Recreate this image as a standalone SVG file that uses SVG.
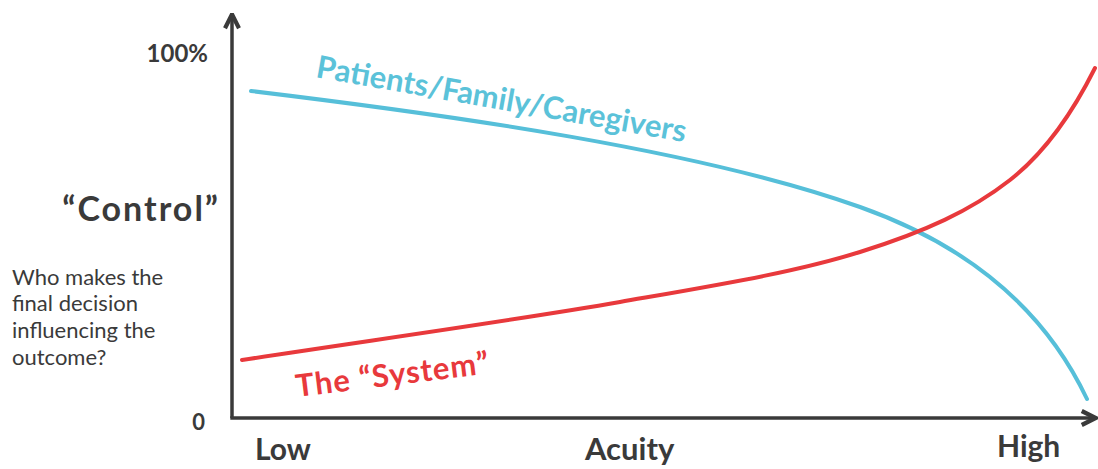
<svg xmlns="http://www.w3.org/2000/svg" width="1098" height="469" viewBox="0 0 1098 469">
<style>
.lbl{font-family:Lato,"Open Sans","Liberation Sans",sans-serif;font-weight:700;fill:#3a3a3a}
.q{font-family:Lato,"Open Sans","Liberation Sans",sans-serif;font-weight:400;fill:#3a3a3a;font-size:22px}
.curve{fill:none;stroke-width:4;stroke-linecap:round}
.ser{font-family:Lato,"Open Sans","Liberation Sans",sans-serif;font-weight:700}
</style>
<defs>
<marker id="arr" viewBox="0 0 10 10" refX="8" refY="5" markerWidth="5" markerHeight="5" orient="auto" markerUnits="strokeWidth">
<path d="M1,1 L9,5 L1,9" fill="none" stroke="#3a3a3a" stroke-width="2.4" stroke-linejoin="miter"/>
</marker>
</defs>
<rect width="1098" height="469" fill="#fff"/>
<g id="axes">
<path d="M232,418 L232,16" stroke="#3a3a3a" stroke-width="3.5" fill="none" marker-end="url(#arr)"/>
<path d="M230.3,418 L1094,418" stroke="#3a3a3a" stroke-width="3.5" fill="none" marker-end="url(#arr)"/>
</g>
<g id="connectors">
<path id="blue" class="curve" stroke="#56bfd9" d="M251,91 C450,115 700,150 860,207 C956,241 1040,300 1087,399"/>
<path id="red" class="curve" stroke="#e8393c" d="M242,360 C368,340.7 517,320 620,302 C723,284 795,272.3 860,252 C925,231.7 970.8,210.7 1010,180 C1042,155 1070,118 1095,68"/>
</g>
<g id="y-labels">
<text class="lbl" x="208" y="62" font-size="24" text-anchor="end">100%</text>
<text class="lbl" x="205" y="430" font-size="22" text-anchor="end">0</text>
<text class="lbl" x="220" y="221" font-size="34" letter-spacing="2" text-anchor="end">“Control”</text>
<text class="q" x="12" y="285">Who makes the</text>
<text class="q" x="12" y="311">final decision</text>
<text class="q" x="12" y="338">influencing the</text>
<text class="q" x="12" y="365">outcome?</text>
</g>
<g id="x-labels">
<text class="lbl" x="255" y="460" font-size="30">Low</text>
<text class="lbl" x="585" y="460" font-size="31">Acuity</text>
<text class="lbl" x="997" y="457" font-size="30">High</text>
</g>
<g id="series-labels">
<text class="ser" x="315" y="77" font-size="31" fill="#5bc2d9" transform="rotate(10 315 77)">Patients/Family/Caregivers</text>
<text class="ser" x="297" y="397" font-size="31" letter-spacing="1" fill="#e8393c" transform="rotate(-7 297 397)">The “System”</text>
</g>
</svg>
